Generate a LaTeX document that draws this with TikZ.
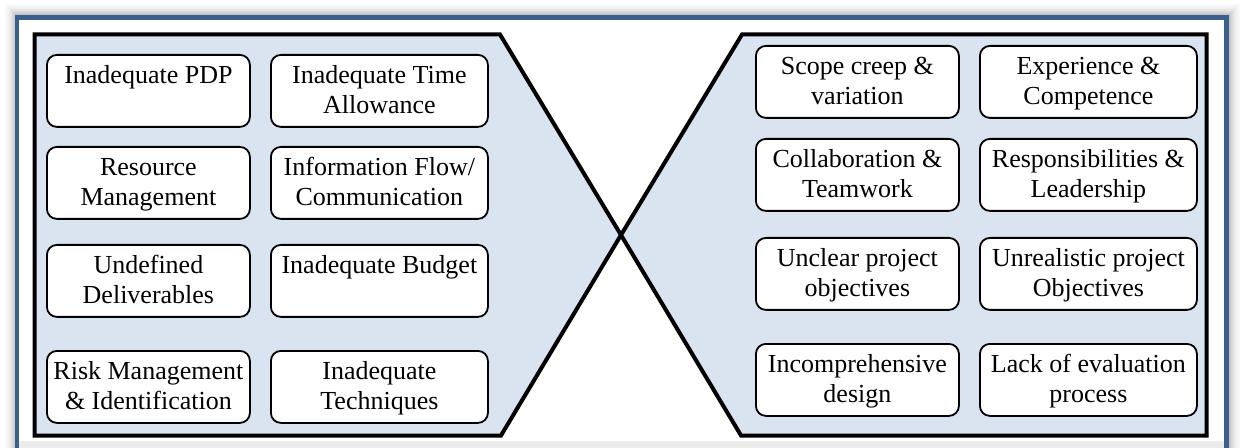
\documentclass[tikz,border=0pt]{standalone}
\usepackage{fontspec}
\setmainfont{Liberation Serif}
\definecolor{framblue}{HTML}{3B5F8D}
\definecolor{panelfill}{HTML}{DAE3F0}
\begin{document}
\begin{tikzpicture}[x=0.5pt,y=-0.5pt,
  panel/.style={draw=black, line width=2pt, fill=panelfill, line join=miter},
  box/.style={draw=black, line width=0.9pt, fill=white, rounded corners=5pt,
    minimum height=36pt, anchor=north west, inner sep=0pt},
  narrowbox/.style={box, minimum width=101.5pt},
  widebox/.style={box, minimum width=108.5pt},
  lbl/.style={font=\fontsize{13}{15}\selectfont, align=center, inner sep=0pt, anchor=north, yshift=-4pt}]
\useasboundingbox (0,0) rectangle (1240,448);
\fill[white] (0,0) rectangle (1240,448);
% shadow around the frame
\foreach \i/\g in {1/26,2/23,3/20,4/17,5/14,6/11,7/9,8/7,9/5,10/4,11/3,12/2}{
  \draw[line width=0.5pt, black!\g] (17-\i,17-\i) rectangle (1227+\i,480);
}
% frame
\fill[white] (17,17) rectangle (1227,480);
\fill[black!8] (19,441) rectangle (1225,448);
\draw[framblue, line width=2.2pt] (17,17.5) rectangle (1226.5,480);
% panels
\draw[panel] (34.5,34.5) -- (500,34.5) -- (621,235) -- (501,435.5) -- (34.5,435.5) -- cycle;
\draw[panel] (1206.5,34.5) -- (742,34.5) -- (621,235) -- (741,435.5) -- (1206.5,435.5) -- cycle;
% left boxes
\node[narrowbox] (l11) at (46,54) {};
\node[widebox]   (l12) at (270,54) {};
\node[narrowbox] (l21) at (46,146) {};
\node[widebox]   (l22) at (270,146) {};
\node[narrowbox] (l31) at (46,244) {};
\node[widebox]   (l32) at (270,244) {};
\node[narrowbox] (l41) at (46,350) {};
\node[widebox]   (l42) at (270,350) {};
\node[lbl] (tl11) at (l11.north) {\strut Inadequate PDP};
\node[lbl] (tl12) at (l12.north) {\strut Inadequate Time\\Allowance};
\node[lbl] (tl21) at (l21.north) {\strut Resource\\Management};
\node[lbl] (tl22) at (l22.north) {\strut Information Flow/\\Communication};
\node[lbl] (tl31) at (l31.north) {\strut Undefined\\Deliverables};
\node[lbl] (tl32) at (l32.north) {\strut Inadequate Budget};
\node[lbl] (tl41) at (l41.north) {\strut Risk Management\\\& Identification};
\node[lbl] (tl42) at (l42.north) {\strut Inadequate\\Techniques};
% right boxes
\node[narrowbox] (r11) at (755,45) {};
\node[widebox]   (r12) at (979,45) {};
\node[narrowbox] (r21) at (755,138) {};
\node[widebox]   (r22) at (979,138) {};
\node[narrowbox] (r31) at (755,237) {};
\node[widebox]   (r32) at (979,237) {};
\node[narrowbox] (r41) at (755,343) {};
\node[widebox]   (r42) at (979,343) {};
\node[lbl] (tr11) at (r11.north) {\strut Scope creep \&\\variation};
\node[lbl] (tr12) at (r12.north) {\strut Experience \&\\Competence};
\node[lbl] (tr21) at (r21.north) {\strut Collaboration \&\\Teamwork};
\node[lbl] (tr22) at (r22.north) {\strut Responsibilities \&\\Leadership};
\node[lbl] (tr31) at (r31.north) {\strut Unclear project\\objectives};
\node[lbl] (tr32) at (r32.north) {\strut Unrealistic project\\Objectives};
\node[lbl] (tr41) at (r41.north) {\strut Incomprehensive\\design};
\node[lbl] (tr42) at (r42.north) {\strut Lack of evaluation\\process};
\end{tikzpicture}
\end{document}
